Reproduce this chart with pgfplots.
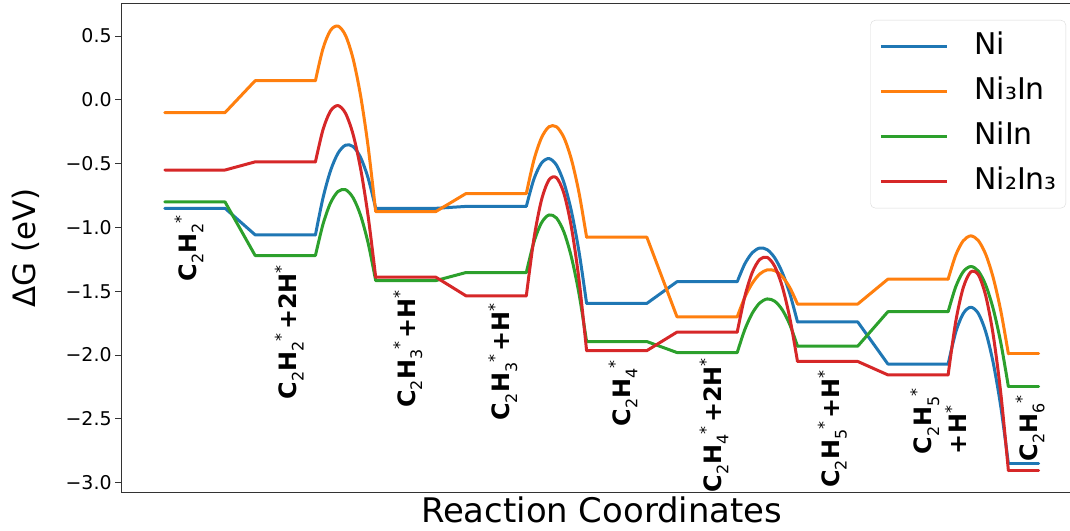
\documentclass[border=0pt]{standalone}
\usepackage{fontspec}
\setmainfont{DejaVu Sans}
\usepackage{pgfplots}
\pgfplotsset{compat=1.18}
\definecolor{cNi}{HTML}{1F77B4}
\definecolor{cNiiiIn}{HTML}{FF7F0E}
\definecolor{cNiIn}{HTML}{2CA02C}
\definecolor{cNiiInii}{HTML}{D62728}
\newcommand{\scr}{\fontsize{16}{16}\selectfont\mdseries}
\newcommand{\Sub}[1]{\raisebox{-0.55ex}{\scr #1}}
\newcommand{\Sup}[1]{\raisebox{0.75ex}{\scr #1}}
\newcommand{\SubSup}[2]{\Sub{#1}\Sup{#2}}
\pgfplotsset{
  base/.style={line width=3bp, line cap=round, line join=round, mark=none, forget plot},
  ni/.style={base, color=cNi},
  nithree/.style={base, color=cNiiiIn},
  niin/.style={base, color=cNiIn},
  nitwo/.style={base, color=cNiiInii},
}
\tikzset{lab/.style={rotate=90, anchor=east, inner sep=0pt, font=\bfseries\fontsize{24}{35}\selectfont}}
\begin{document}
\begin{tikzpicture}
\begin{axis}[
  scale only axis, width=961.1bp, height=489.2bp,
  xmin=-1.45, xmax=30.45, ymin=-3.079, ymax=0.754,
  axis x line=box, axis y line*=left,
  axis line style={black!80, line width=1bp},
  xtick=\empty,
  ytick={-3,-2.5,-2,-1.5,-1,-0.5,0,0.5},
  yticklabels={−3.0,−2.5,−2.0,−1.5,−1.0,−0.5,0.0,0.5},
  tick align=outside, major tick length=6bp,
  tick style={black!80, line width=1bp},
  yticklabel style={font=\fontsize{19}{19}\selectfont},
  clip=false,
  every axis y label/.style={at={(rel axis cs:-0.099,0.5)}, rotate=90, anchor=center, font=\fontsize{31}{31}\selectfont},
  every axis x label/.style={at={(rel axis cs:0.5,-0.0617)}, anchor=base, font=\fontsize{34}{34}\selectfont},
  ylabel={ΔG (eV)},
  xlabel={Reaction Coordinates},
  legend cell align=left,
  legend style={at={(rel axis cs:0.9832,0.9665)}, anchor=north east, draw=black!15, rounded corners=5bp, fill=white,
    font=\fontsize{30}{30}\selectfont, inner xsep=9bp, inner ysep=12bp, row sep=16bp, column sep=26bp,
    nodes={inner sep=0pt, text height=22bp, text depth=7bp}},
  legend image code/.code={\draw[#1] (0bp,0bp) -- (66bp,0bp);},
]
\addlegendimage{color=cNi, line width=3bp}
\addlegendentry{Ni}
\addlegendimage{color=cNiiiIn, line width=3bp}
\addlegendentry{Ni₃In}
\addlegendimage{color=cNiIn, line width=3bp}
\addlegendentry{NiIn}
\addlegendimage{color=cNiiInii, line width=3bp}
\addlegendentry{Ni₂In₃}

% ---------------- Ni (blue)
\addplot[ni] coordinates {(0,-0.85)(2,-0.85)(3,-1.058)(5,-1.058)};
\addplot[ni,smooth] coordinates {(5,-1.058)(5.25,-0.770)(5.5,-0.556)(5.75,-0.418)(6,-0.355)(6.25,-0.366)(6.5,-0.452)(6.75,-0.614)(7,-0.85)};
\addplot[ni] coordinates {(7,-0.85)(9,-0.85)(10,-0.835)(12,-0.835)};
\addplot[ni,smooth] coordinates {(12,-0.835)(12.25,-0.622)(12.5,-0.497)(12.75,-0.460)(13,-0.511)(13.25,-0.650)(13.5,-0.877)(13.75,-1.192)(14,-1.595)};
\addplot[ni] coordinates {(14,-1.595)(16,-1.595)(17,-1.425)(19,-1.425)};
\addplot[ni,smooth] coordinates {(19,-1.425)(19.25,-1.286)(19.5,-1.198)(19.75,-1.161)(20,-1.175)(20.25,-1.240)(20.5,-1.356)(20.75,-1.522)(21,-1.74)};
\addplot[ni] coordinates {(21,-1.74)(23,-1.74)(24,-2.07)(26,-2.07)};
\addplot[ni,smooth] coordinates {(26,-2.07)(26.25,-1.823)(26.5,-1.675)(26.75,-1.625)(27,-1.673)(27.25,-1.820)(27.5,-2.065)(27.75,-2.408)(28,-2.85)};
\addplot[ni] coordinates {(28,-2.85)(29,-2.85)};

% ---------------- Ni3In (orange)
\addplot[nithree] coordinates {(0,-0.10)(2,-0.10)(3,0.15)(5,0.15)};
\addplot[nithree,smooth] coordinates {(5,0.15)(5.25,0.401)(5.5,0.544)(5.75,0.578)(6,0.504)(6.25,0.322)(6.5,0.031)(6.75,-0.368)(7,-0.875)};
\addplot[nithree] coordinates {(7,-0.875)(9,-0.875)(10,-0.734)(12,-0.734)};
\addplot[nithree,smooth] coordinates {(12,-0.734)(12.25,-0.473)(12.5,-0.299)(12.75,-0.211)(13,-0.211)(13.25,-0.297)(13.5,-0.470)(13.75,-0.730)(14,-1.076)};
\addplot[nithree] coordinates {(14,-1.076)(16,-1.076)(17,-1.70)(19,-1.70)};
\addplot[nithree,smooth] coordinates {(19,-1.70)(19.25,-1.548)(19.5,-1.437)(19.75,-1.364)(20,-1.332)(20.25,-1.339)(20.5,-1.387)(20.75,-1.473)(21,-1.60)};
\addplot[nithree] coordinates {(21,-1.60)(23,-1.60)(24,-1.405)(26,-1.405)};
\addplot[nithree,smooth] coordinates {(26,-1.405)(26.25,-1.218)(26.5,-1.105)(26.75,-1.066)(27,-1.102)(27.25,-1.212)(27.5,-1.397)(27.75,-1.656)(28,-1.99)};
\addplot[nithree] coordinates {(28,-1.99)(29,-1.99)};

% ---------------- NiIn (green)
\addplot[niin] coordinates {(0,-0.80)(2,-0.80)(3,-1.22)(5,-1.22)};
\addplot[niin,smooth] coordinates {(5,-1.22)(5.25,-0.976)(5.5,-0.808)(5.75,-0.718)(6,-0.704)(6.25,-0.767)(6.5,-0.906)(6.75,-1.123)(7,-1.416)};
\addplot[niin] coordinates {(7,-1.416)(9,-1.416)(10,-1.353)(12,-1.353)};
\addplot[niin,smooth] coordinates {(12,-1.353)(12.25,-1.116)(12.5,-0.965)(12.75,-0.902)(13,-0.926)(13.25,-1.037)(13.5,-1.236)(13.75,-1.521)(14,-1.894)};
\addplot[niin] coordinates {(14,-1.894)(16,-1.894)(17,-1.98)(19,-1.98)};
\addplot[niin,smooth] coordinates {(19,-1.98)(19.25,-1.801)(19.5,-1.672)(19.75,-1.591)(20,-1.560)(20.25,-1.579)(20.5,-1.647)(20.75,-1.764)(21,-1.93)};
\addplot[niin] coordinates {(21,-1.93)(23,-1.93)(24,-1.66)(26,-1.66)};
\addplot[niin,smooth] coordinates {(26,-1.66)(26.25,-1.466)(26.5,-1.347)(26.75,-1.306)(27,-1.341)(27.25,-1.453)(27.5,-1.641)(27.75,-1.906)(28,-2.247)};
\addplot[niin] coordinates {(28,-2.247)(29,-2.247)};

% ---------------- Ni2In3 (red)
\addplot[nitwo] coordinates {(0,-0.55)(2,-0.55)(3,-0.486)(5,-0.486)};
\addplot[nitwo,smooth] coordinates {(5,-0.486)(5.25,-0.235)(5.5,-0.088)(5.75,-0.045)(6,-0.106)(6.25,-0.271)(6.5,-0.540)(6.75,-0.913)(7,-1.39)};
\addplot[nitwo] coordinates {(7,-1.39)(9,-1.39)(10,-1.536)(12,-1.536)};
\addplot[nitwo,smooth] coordinates {(12,-1.536)(12.25,-1.091)(12.5,-0.788)(12.75,-0.628)(13,-0.610)(13.25,-0.735)(13.5,-1.003)(13.75,-1.413)(14,-1.965)};
\addplot[nitwo] coordinates {(14,-1.965)(16,-1.965)(17,-1.82)(19,-1.82)};
\addplot[nitwo,smooth] coordinates {(19,-1.82)(19.25,-1.542)(19.5,-1.352)(19.75,-1.250)(20,-1.235)(20.25,-1.307)(20.5,-1.467)(20.75,-1.715)(21,-2.05)};
\addplot[nitwo] coordinates {(21,-2.05)(23,-2.05)(24,-2.155)(26,-2.155)};
\addplot[nitwo,smooth] coordinates {(26,-2.155)(26.25,-1.741)(26.5,-1.473)(26.75,-1.349)(27,-1.370)(27.25,-1.537)(27.5,-1.848)(27.75,-2.304)(28,-2.905)};
\addplot[nitwo] coordinates {(28,-2.905)(29,-2.905)};

% ---------------- state labels
\node[lab] at (axis cs:0.80,-0.903) {C\Sub{2}H\SubSup{2}{*}};
\node[lab] at (axis cs:4.13,-1.294) {C\Sub{2}H\SubSup{2}{*}\hspace{0.15em}+2H\Sup{*}};
\node[lab] at (axis cs:8.07,-1.490) {C\Sub{2}H\SubSup{3}{*}\hspace{0.15em}+H\Sup{*}};
\node[lab] at (axis cs:11.22,-1.592) {C\Sub{2}H\SubSup{3}{*}\hspace{0.15em}+H\Sup{*}};
\node[lab] at (axis cs:15.21,-2.039) {C\Sub{2}H\SubSup{4}{*}};
\node[lab] at (axis cs:18.23,-2.023) {C\Sub{2}H\SubSup{4}{*}\hspace{0.15em}+2H\Sup{*}};
\node[lab] at (axis cs:22.16,-2.117) {C\Sub{2}H\SubSup{5}{*}\hspace{0.15em}+H\Sup{*}};
\node[lab, align=left] at (axis cs:25.68,-2.258) {C\Sub{2}H\SubSup{5}{*}\\+H\Sup{*}};
\node[lab] at (axis cs:28.72,-2.313) {C\Sub{2}H\SubSup{6}{*}};

\coordinate (BL) at (rel axis cs:0,0);
\coordinate (TR) at (rel axis cs:1,1);
\end{axis}
\pgfresetboundingbox
\path[use as bounding box] ([shift={(-121.1bp,-38.2bp)}]BL) rectangle ([shift={(-12.2bp,3.6bp)}]TR);
\end{tikzpicture}
\end{document}
